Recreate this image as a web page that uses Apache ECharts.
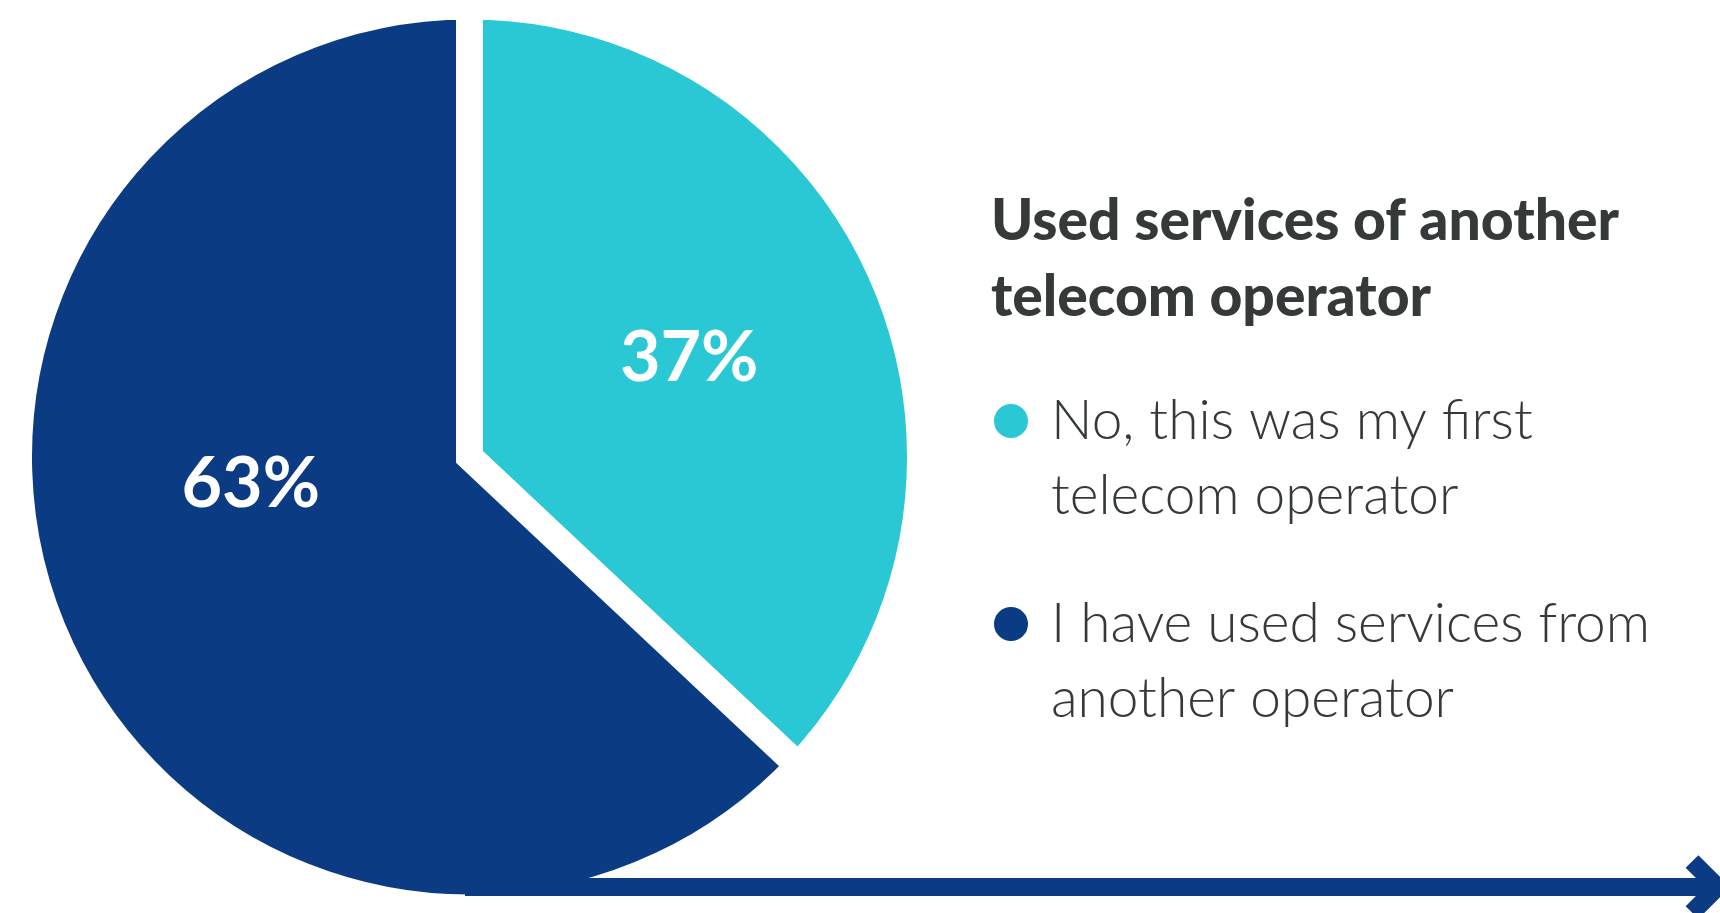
<!DOCTYPE html>
<html>
<head>
<meta charset="utf-8">
<style>
  html, body { margin: 0; padding: 0; background: #ffffff; }
  #chart { width: 1720px; height: 913px; }
</style>
<script src="https://cdn.jsdelivr.net/npm/echarts@6/dist/echarts.min.js"></script>
</head>
<body>
<div id="chart"></div>
<script>
// Survey answers: share of respondents (%)
const categories = [
  'No, this was my first\ntelecom operator',
  'I have used services from\nanother operator'
];
const values = [37, 63];
const colors = ['#29C8D4', '#0B3B82'];
const chartTitle = 'Used services of another\ntelecom operator';

const NAVY = '#0B3B82';
const TEXT = '#353939';

// nudges for the in-slice percentage labels
const labelNudge = [[10, -8], [-9, -63]];

const chart = echarts.init(document.getElementById('chart'), null, { renderer: 'canvas' });

const pieData = categories.map((name, i) => ({
  name: name,
  value: values[i],
  itemStyle: { color: colors[i] }
}));

// one legend block per answer; a leading blank line keeps the
// circle level with the first line of its two-line caption
const legends = categories.map((name, i) => ({
  data: [name],
  orient: 'vertical',
  left: 992,
  top: [308.5, 511.5][i],
  padding: 0,
  icon: 'circle',
  itemWidth: 36,
  itemHeight: 36,
  selectedMode: false,
  formatter: n => '\n' + n,
  textStyle: {
    fontFamily: 'Lato',
    fontWeight: 300,
    fontSize: 55,
    lineHeight: 75,
    color: TEXT,
    padding: [0, 0, 0, 17]
  }
}));

chart.setOption({
  animation: false,
  title: {
    text: chartTitle,
    left: 986,
    top: 179,
    textStyle: {
      fontFamily: 'Lato',
      fontWeight: 900,
      fontSize: 57,
      lineHeight: 76,
      color: TEXT
    }
  },
  legend: legends,
  series: [{
    type: 'pie',
    center: [469.5, 457],
    radius: 451,
    startAngle: 90,
    clockwise: true,
    silent: true,
    itemStyle: {
      borderColor: '#ffffff',
      borderWidth: 27,
      borderJoin: 'miter'
    },
    label: {
      show: true,
      position: 'inside',
      formatter: '{c}%',
      color: '#ffffff',
      fontFamily: 'Lato',
      fontWeight: 700,
      fontSize: 70
    },
    labelLine: { show: false },
    labelLayout: function (params) {
      const n = labelNudge[params.dataIndex];
      return { dx: n[0], dy: n[1] };
    },
    emphasis: { disabled: true },
    data: pieData
  }],
  graphic: [{
    type: 'polyline',
    z: 100,
    shape: { points: [[465, 887], [1715, 887]] },
    style: { stroke: NAVY, lineWidth: 18, fill: null }
  }, {
    type: 'polyline',
    z: 100,
    shape: { points: [[1692, 861.5], [1717.5, 887], [1692, 912.5]] },
    style: { stroke: NAVY, lineWidth: 18, fill: null, lineJoin: 'miter', lineCap: 'butt' }
  }]
});
</script>
</body>
</html>
